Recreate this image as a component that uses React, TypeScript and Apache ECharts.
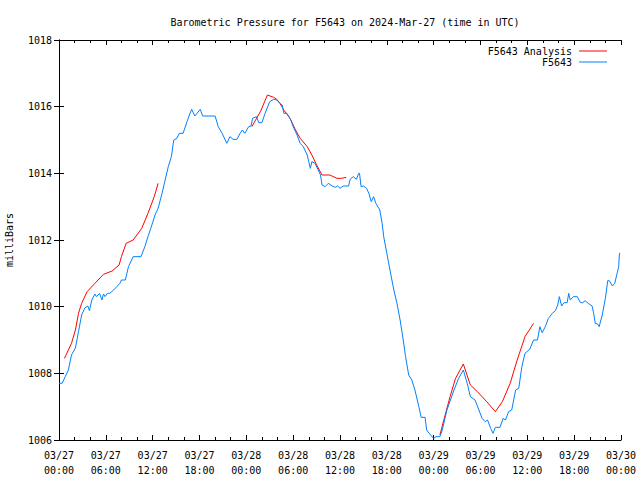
import React, { useEffect, useRef } from "react";
import * as echarts from "echarts";

const titleText = "Barometric Pressure for F5643 on 2024-Mar-27 (time in UTC)";
const yAxisName = "milliBars";
const seriesNames = ["F5643 Analysis", "F5643"];
const xTickLabels = [
  "03/27\n00:00", "03/27\n06:00", "03/27\n12:00", "03/27\n18:00",
  "03/28\n00:00", "03/28\n06:00", "03/28\n12:00", "03/28\n18:00",
  "03/29\n00:00", "03/29\n06:00", "03/29\n12:00", "03/29\n18:00",
  "03/30\n00:00",
];

// hours since 03/27 00:00 UTC
const stationHours = [
  0.0, 0.4, 0.8, 1.2, 1.6, 2.1, 2.5, 2.9, 3.3, 3.7, 3.9, 4.2, 4.6, 4.8, 5.2, 5.5, 5.7, 5.9,
  6.2, 6.5, 7.0, 7.4, 7.8, 8.0, 8.5, 8.9, 9.5, 10.5, 11.0, 11.4, 11.9, 12.3, 12.7, 13.2, 13.6,
  14.0, 14.4, 14.7, 15.1, 15.4, 15.9, 16.4, 16.7, 17.0, 17.4, 18.1, 18.4, 20.0, 20.4, 20.9,
  21.3, 21.5, 21.9, 22.3, 22.8, 23.2, 23.5, 23.8, 24.3, 24.6, 24.8, 25.3, 25.6, 26.0, 26.4,
  27.0, 27.5, 27.9, 28.3, 28.6, 28.8, 29.2, 29.7, 30.0, 30.5, 30.9, 31.3, 31.8, 32.0, 32.2,
  32.4, 32.8, 33.2, 33.5, 33.7, 34.1, 34.5, 35.0, 35.4, 35.7, 36.0, 36.4, 37.1, 37.3, 37.7,
  38.1, 38.4, 38.5, 38.7, 39.0, 39.4, 39.7, 40.0, 40.3, 40.6, 41.1, 41.4, 41.6, 42.0, 42.4,
  42.9, 43.3, 43.7, 44.1, 44.4, 44.8, 45.2, 45.6, 46.1, 46.4, 46.9, 47.1, 47.6, 48.0, 48.3,
  48.8, 49.1, 49.7, 50.6, 51.2, 51.8, 52.3, 52.7, 53.3, 53.8, 54.2, 54.6, 54.9, 55.3, 55.6,
  55.9, 56.5, 56.9, 57.2, 57.6, 58.0, 58.5, 58.9, 59.3, 59.7, 60.3, 60.8, 61.3, 61.6, 61.9,
  62.3, 62.7, 63.2, 63.6, 63.9, 64.1, 64.4, 64.7, 65.1, 65.3, 65.5, 65.9, 66.4, 66.8, 67.1,
  67.4, 67.8, 68.3, 68.5, 68.7, 69.0, 69.2, 69.6, 70.0, 70.3, 70.5, 70.9, 71.2, 71.5, 71.7,
  71.8, 71.9,
];
const stationPressure = [
  1007.7, 1007.7, 1007.9, 1008.1, 1008.55, 1008.76, 1009.25, 1009.75, 1009.96, 1010.02, 1009.88, 1010.2, 1010.38, 1010.3, 1010.4, 1010.2, 1010.38, 1010.3,
  1010.4, 1010.4, 1010.5, 1010.6, 1010.7, 1010.8, 1010.8, 1011.2, 1011.5, 1011.5, 1011.8, 1012.1, 1012.45, 1012.75, 1012.95, 1013.4, 1013.8,
  1014.2, 1014.5, 1015.0, 1015.05, 1015.2, 1015.2, 1015.55, 1015.75, 1015.92, 1015.72, 1015.92, 1015.72, 1015.72, 1015.4, 1015.2,
  1015.0, 1014.9, 1015.1, 1015.02, 1015.02, 1015.2, 1015.3, 1015.2, 1015.4, 1015.42, 1015.65, 1015.7, 1015.52, 1015.52, 1015.8,
  1016.15, 1016.22, 1016.2, 1016.1, 1016.05, 1015.8, 1015.8, 1015.6, 1015.4, 1015.15, 1014.9, 1014.8, 1014.55, 1014.35, 1014.15,
  1014.35, 1014.3, 1014.1, 1013.95, 1013.65, 1013.6, 1013.7, 1013.62, 1013.58, 1013.62, 1013.55, 1013.62, 1013.62, 1013.82, 1013.9,
  1013.82, 1014.0, 1014.0, 1013.6, 1013.62, 1013.55, 1013.4, 1013.15, 1013.3, 1013.1, 1012.9, 1012.5, 1012.1, 1011.6, 1011.1,
  1010.5, 1010.1, 1009.6, 1009.0, 1008.5, 1007.95, 1007.8, 1007.5, 1007.0, 1006.68, 1006.68, 1006.3, 1006.15, 1006.05, 1006.1,
  1006.1, 1006.3, 1006.9, 1007.5, 1007.85, 1008.1, 1007.7, 1007.3, 1007.2, 1006.9, 1006.65, 1006.55, 1006.6, 1006.35, 1006.2,
  1006.38, 1006.38, 1006.65, 1006.6, 1006.85, 1006.9, 1007.5, 1007.55, 1008.2, 1008.6, 1008.72, 1009.0, 1009.0, 1009.4, 1009.22,
  1009.4, 1009.65, 1009.8, 1009.88, 1010.05, 1010.3, 1010.02, 1010.12, 1010.12, 1010.4, 1010.2, 1010.3, 1010.3, 1010.12, 1010.12,
  1010.18, 1010.1, 1010.02, 1009.8, 1009.5, 1009.48, 1009.4, 1009.75, 1010.25, 1010.78, 1010.78, 1010.62, 1010.7, 1011.0, 1011.2,
  1011.6, 1011.6,
];

// null marks a break between analysis runs
const analysisHours = [
  0.7, 1.2, 1.6, 2.1, 2.5, 2.9, 3.6, 4.6, 5.7, 6.8, 7.7, 8.0, 8.6, 9.5, 10.6, 11.4, 12.2, 12.7,
  18.0,
  24.7, 25.8, 26.7, 27.5, 27.9, 28.3, 28.8, 29.6, 30.3, 30.9, 31.8, 32.4, 33.0, 33.7, 34.7, 35.6, 36.2, 36.8,
  42.0,
  48.8, 49.3, 50.1, 50.8, 51.8, 52.7, 53.6, 54.8, 55.9, 56.8, 57.8, 58.7, 59.7, 60.8,
];
const analysisPressure = [
  1008.45, 1008.7, 1008.9, 1009.3, 1009.8, 1010.1, 1010.45, 1010.7, 1010.97, 1011.07, 1011.25, 1011.5, 1011.9, 1012.0, 1012.35, 1012.8, 1013.3, 1013.7,
  null,
  1015.4, 1015.85, 1016.35, 1016.28, 1016.22, 1016.1, 1015.9, 1015.65, 1015.3, 1015.05, 1014.8, 1014.55, 1014.25, 1013.95, 1013.95, 1013.85, 1013.85, 1013.88,
  null,
  1006.15, 1006.6, 1007.3, 1007.85, 1008.28, 1007.65, 1007.45, 1007.15, 1006.85, 1007.15, 1007.7, 1008.4, 1009.1, 1009.5,
];

const FONT = "DejaVu Sans Mono";

export default function App() {
  const ref = useRef<HTMLDivElement>(null);
  useEffect(() => {
    if (!ref.current) return;
    const chart = echarts.init(ref.current, null, { renderer: "svg" });
    const stationData = stationHours.map((h, i) => [h, stationPressure[i]]);
    const analysisData = analysisHours.map((h, i) => [h, analysisPressure[i]]);
    const axisLine = { show: true, lineStyle: { color: "#000", width: 1 } };
    const xCommon = {
      type: "value",
      min: 0,
      max: 72,
      interval: 6,
      splitLine: { show: false },
      axisLine,
      axisTick: { show: true, inside: true, length: 5, lineStyle: { color: "#000" } },
      minorTick: { show: true, splitNumber: 3, length: 3, lineStyle: { color: "#000" } },
      minorSplitLine: { show: false },
    };
    const yCommon = {
      type: "value",
      min: 1006,
      max: 1018,
      interval: 2,
      splitLine: { show: false },
      axisLine,
      axisTick: { show: true, inside: true, length: 5, lineStyle: { color: "#000" } },
    };
    chart.setOption({
      animation: false,
      backgroundColor: "#fff",
      title: {
        text: titleText,
        left: 340,
        top: 12,
        textAlign: "center",
        textStyle: { fontFamily: FONT, fontSize: 10, fontWeight: "normal", color: "#000" },
      },
      legend: {
        orient: "vertical",
        right: 28,
        top: 41,
        align: "right",
        itemWidth: 28,
        itemHeight: 1,
        itemGap: 1,
        icon: "rect",
        data: seriesNames,
        textStyle: { fontFamily: FONT, fontSize: 10, color: "#000", padding: [0, 2, 0, 0] },
      },
      grid: { left: 59, right: 19, top: 40, bottom: 40, containLabel: false, outerBoundsMode: "none" },
      xAxis: [
        {
          ...xCommon,
          position: "bottom",
          axisLabel: {
            fontFamily: FONT,
            fontSize: 10,
            color: "#000",
            lineHeight: 15,
            margin: 8,
            formatter: (v: number) => xTickLabels[Math.round(v / 6)] ?? "",
          },
        },
        { ...xCommon, position: "top", axisLabel: { show: false } },
      ],
      yAxis: [
        {
          ...yCommon,
          position: "left",
          name: yAxisName,
          nameLocation: "middle",
          nameRotate: 90,
          nameGap: 45,
          nameTextStyle: { fontFamily: FONT, fontSize: 10, color: "#000" },
          axisLabel: {
            fontFamily: FONT,
            fontSize: 10,
            color: "#000",
            margin: 7,
            formatter: (v: number) => String(v),
          },
        },
        { ...yCommon, position: "right", axisLabel: { show: false } },
      ],
      series: [
        {
          name: seriesNames[0],
          type: "line",
          data: analysisData,
          showSymbol: false,
          connectNulls: false,
          lineStyle: { color: "#ff0000", width: 1 },
          itemStyle: { color: "#ff0000" },
          xAxisIndex: 0,
          yAxisIndex: 0,
        },
        {
          name: seriesNames[1],
          type: "line",
          data: stationData,
          showSymbol: false,
          lineStyle: { color: "#0080ff", width: 1 },
          itemStyle: { color: "#0080ff" },
          xAxisIndex: 0,
          yAxisIndex: 0,
        },
      ],
    });
    return () => chart.dispose();
  }, []);
  return <div ref={ref} style={{ position: "fixed", left: 0, top: 0, width: 640, height: 480 }} />;
}
